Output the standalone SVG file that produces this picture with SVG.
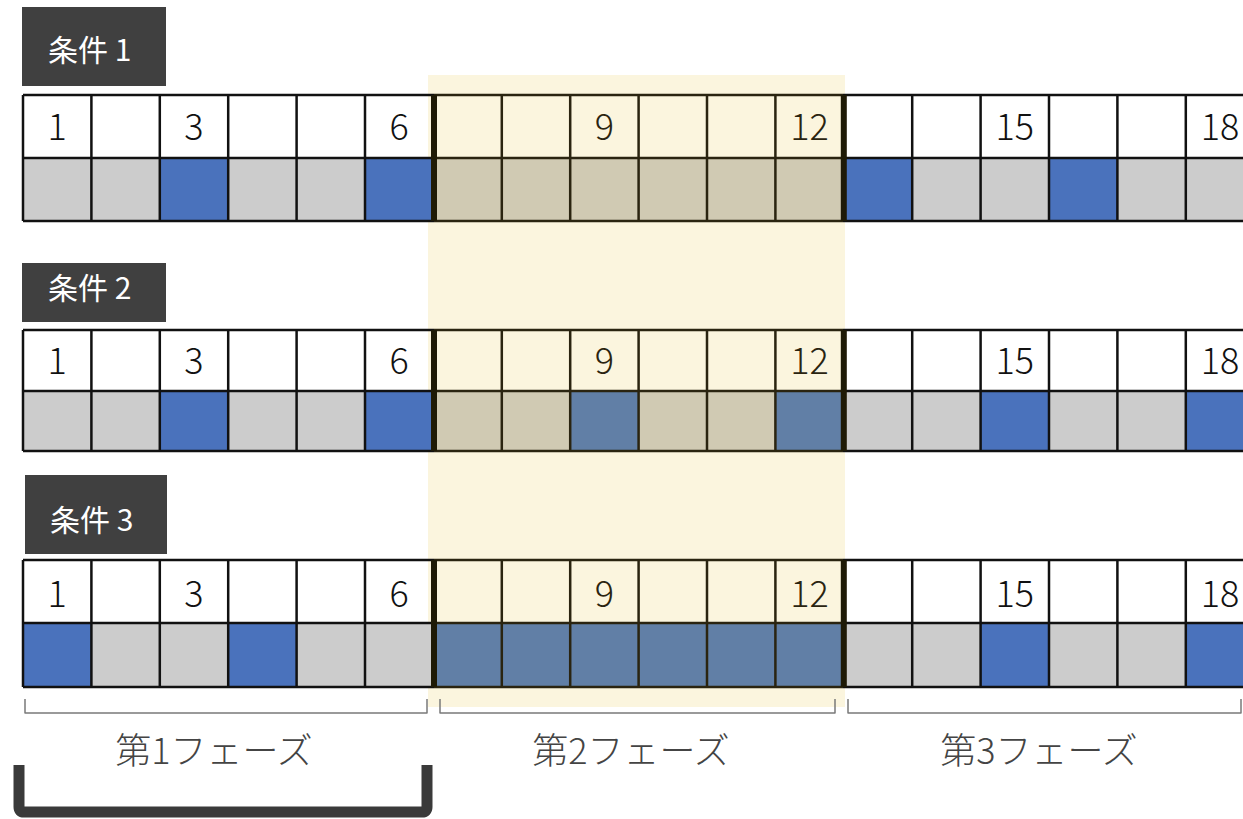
<svg xmlns="http://www.w3.org/2000/svg" width="1243" height="819" viewBox="0 0 1243 819">
<style>
.g{fill:#CCCCCC}
.b{fill:#4A72BC}
.t{fill:#D0CAB3}
.b2{fill:#617FA6}
.ln{stroke:#111111;stroke-width:2.5;fill:none}
.ln2{stroke:#2A2410;stroke-width:2.5;fill:none}
.thick{stroke:#1E1A06;stroke-width:6;fill:none}
.num{font-family:"Noto Sans CJK JP","Noto Sans",sans-serif;font-size:36px;font-weight:300;fill:#111111;text-anchor:middle}
.num2{fill:#2A2410}
.lbl{fill:#404040}
.lbltx{font-family:"Noto Sans CJK JP","Noto Sans",sans-serif;font-size:30px;fill:#FFFFFF}
.brk{stroke:#7A7A7A;stroke-width:1.5;fill:none;stroke-linejoin:round}
.phase{font-family:"Noto Sans CJK JP","Noto Sans",sans-serif;font-size:36px;font-weight:300;fill:#444444;text-anchor:middle}
.big{stroke:#3A3A3A;stroke-width:11;fill:none;stroke-linejoin:round}
</style>
<rect width="1243" height="819" fill="#FFFFFF"/>
<rect id="phase2-highlight" x="428" y="75" width="417" height="632" fill="#FBF5DE"/>

<g id="cond1">
  <rect class="lbl" x="22" y="7" width="144" height="79"/>
  <text class="lbltx" x="48" y="61">条件 1</text>
  <rect class="g" x="23" y="158" width="1220" height="63"/>
  <rect class="b" x="159.8" y="158" width="68.4" height="63"/>
  <rect class="b" x="365" y="158" width="68.4" height="63"/>
  <rect class="t" x="433.4" y="158" width="410.4" height="63"/>
  <rect class="b" x="843.8" y="158" width="68.4" height="63"/>
  <rect class="b" x="1049" y="158" width="68.4" height="63"/>
  <path class="ln" d="M23 95H434M23 158H434M23 221H434M843 95H1243M843 158H1243M843 221H1243M23 95V221M91.4 95V221M159.8 95V221M228.2 95V221M296.6 95V221M365 95V221M912.2 95V221M980.6 95V221M1049 95V221M1117.4 95V221M1185.8 95V221"/>
  <path class="ln2" d="M434 95H843M434 158H843M434 221H843M501.8 95V221M570.2 95V221M638.6 95V221M707 95V221M775.4 95V221"/>
  <path class="thick" d="M434 95V221M843.8 95V221"/>
  <text class="num" x="57.2" y="140">1</text>
  <text class="num" x="194" y="140">3</text>
  <text class="num" x="399.2" y="140">6</text>
  <text class="num num2" x="604.4" y="140">9</text>
  <text class="num num2" x="809.6" y="140">12</text>
  <text class="num" x="1014.8" y="140">15</text>
  <text class="num" x="1220" y="140">18</text>
</g>

<g id="cond2">
  <rect class="lbl" x="22" y="263" width="144" height="59"/>
  <text class="lbltx" x="48" y="299">条件 2</text>
  <rect class="g" x="23" y="391" width="1220" height="60"/>
  <rect class="b" x="159.8" y="391" width="68.4" height="60"/>
  <rect class="b" x="365" y="391" width="68.4" height="60"/>
  <rect class="t" x="433.4" y="391" width="410.4" height="60"/>
  <rect class="b2" x="570.2" y="391" width="68.4" height="60"/>
  <rect class="b2" x="775.4" y="391" width="68.4" height="60"/>
  <rect class="b" x="980.6" y="391" width="68.4" height="60"/>
  <rect class="b" x="1185.8" y="391" width="68.4" height="60"/>
  <path class="ln" d="M23 330H434M23 391H434M23 451H434M843 330H1243M843 391H1243M843 451H1243M23 330V451M91.4 330V451M159.8 330V451M228.2 330V451M296.6 330V451M365 330V451M912.2 330V451M980.6 330V451M1049 330V451M1117.4 330V451M1185.8 330V451"/>
  <path class="ln2" d="M434 330H843M434 391H843M434 451H843M501.8 330V451M570.2 330V451M638.6 330V451M707 330V451M775.4 330V451"/>
  <path class="thick" d="M434 330V451M843.8 330V451"/>
  <text class="num" x="57.2" y="374">1</text>
  <text class="num" x="194" y="374">3</text>
  <text class="num" x="399.2" y="374">6</text>
  <text class="num num2" x="604.4" y="374">9</text>
  <text class="num num2" x="809.6" y="374">12</text>
  <text class="num" x="1014.8" y="374">15</text>
  <text class="num" x="1220" y="374">18</text>
</g>

<g id="cond3">
  <rect class="lbl" x="25" y="475" width="142" height="79"/>
  <text class="lbltx" x="50" y="531">条件 3</text>
  <rect class="g" x="23" y="623" width="1220" height="64"/>
  <rect class="b" x="23" y="623" width="68.4" height="64"/>
  <rect class="b" x="228.2" y="623" width="68.4" height="64"/>
  <rect class="b2" x="433.4" y="623" width="410.4" height="64"/>
  <rect class="b" x="980.6" y="623" width="68.4" height="64"/>
  <rect class="b" x="1185.8" y="623" width="68.4" height="64"/>
  <path class="ln" d="M23 560H434M23 623H434M23 687H434M843 560H1243M843 623H1243M843 687H1243M23 560V687M91.4 560V687M159.8 560V687M228.2 560V687M296.6 560V687M365 560V687M912.2 560V687M980.6 560V687M1049 560V687M1117.4 560V687M1185.8 560V687"/>
  <path class="ln2" d="M434 560H843M434 623H843M434 687H843M501.8 560V687M570.2 560V687M638.6 560V687M707 560V687M775.4 560V687"/>
  <path class="thick" d="M434 560V687M843.8 560V687"/>
  <text class="num" x="57.2" y="607">1</text>
  <text class="num" x="194" y="607">3</text>
  <text class="num" x="399.2" y="607">6</text>
  <text class="num num2" x="604.4" y="607">9</text>
  <text class="num num2" x="809.6" y="607">12</text>
  <text class="num" x="1014.8" y="607">15</text>
  <text class="num" x="1220" y="607">18</text>
</g>

<g id="connectors">
  <path class="brk" d="M25 699V713H427V699"/>
  <path class="brk" d="M440 699V713H835V699"/>
  <path class="brk" d="M848 699V713H1241V699"/>
  <path class="big" d="M19 765V807Q19 812 24 812H422Q427 812 427 807V765"/>
</g>

<g id="phase-labels">
  <text class="phase" x="214" y="764">第1フェーズ</text>
  <text class="phase" x="631" y="764">第2フェーズ</text>
  <text class="phase" x="1039" y="764">第3フェーズ</text>
</g>
</svg>
